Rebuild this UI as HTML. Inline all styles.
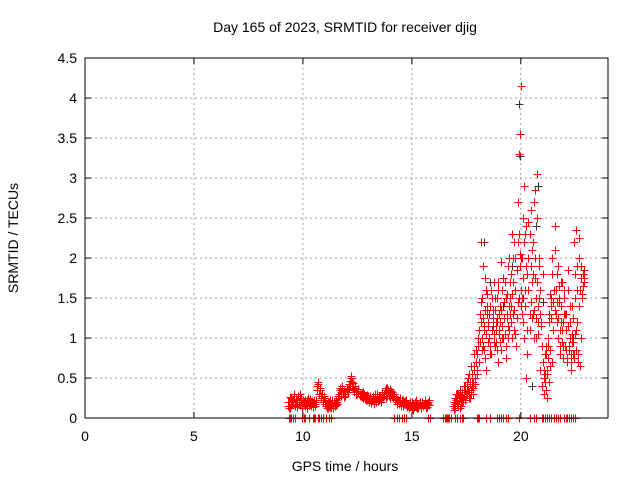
<!DOCTYPE html>
<html><head><meta charset="utf-8"><style>
body{margin:0;background:#fff;width:640px;height:480px;overflow:hidden}
svg text{font-family:"Liberation Sans",sans-serif;font-size:14px;fill:#000}
</style></head><body>
<svg id="chart" width="640" height="480" viewBox="0 0 640 480" xmlns="http://www.w3.org/2000/svg">
<rect x="0" y="0" width="640" height="480" fill="#fff"/>
<g id="grid"></g>
<g id="marks"></g>
<rect x="85" y="58" width="523" height="360" fill="none" stroke="#000" stroke-width="1"/>
<g id="ticks"></g>
<text x="345" y="32" text-anchor="middle">Day 165 of 2023, SRMTID for receiver djig</text>
<text x="345" y="471" text-anchor="middle">GPS time / hours</text>
<text x="18" y="238" text-anchor="middle" transform="rotate(-90 18 238)">SRMTID / TECUs</text>
</svg>
<script>
const xTicks=[0,5,10,15,20];
const yTicks=[0,0.5,1,1.5,2,2.5,3,3.5,4,4.5];
const yTickLabels=["0","0.5","1","1.5","2","2.5","3","3.5","4","4.5"];
const lowStart=9.3, lowEnd=15.8;
const lowValues=[.15,.2,.12,.25,.18,.22,.28,.15,.2,.24,.17,.3,.22,.13,.19,
.2,.15,.18,.22,.25,.16,.19,.21,.14,.2,.18,.23,
.4,.45,.3,.35,.25,.2,.28,.22,
.15,.18,.12,.2,.14,.17,.22,.13,.19,.16,.2,.25,
.3,.35,.28,.4,.32,.26,.3,.35,
.33,.38,.42,.5,.45,.38,.35,.4,.3,.32,.36,.28,
.3,.26,.33,.29,.24,.28,.22,.27,
.2,.25,.22,.28,.18,.26,.23,.3,.21,.27,.24,.2,
.3,.28,.35,.25,.38,.32,.27,.36,.29,.33,.25,.3,
.26,.2,.22,.18,.25,.15,.2,.23,.17,.21,.19,.15,
.12,.18,.15,.2,.1,.14,.17,.22,.13,.16,.19,.12,.2,.15,.18,.22,.17,.14,.2,.16];
const lowValuesB=[.2,.13,.26,.16,.21,.3,.18,.24,.14,.27,.2,.16,.25,.18,.22,
.17,.22,.13,.2,.16,.24,.15,.2,.18,.22,.15,.2,
.35,.42,.38,.28,.3,.22,.25,.18,
.18,.13,.2,.15,.22,.12,.18,.2,.15,.22,.18,.28,
.28,.38,.32,.36,.3,.34,.27,.38,
.36,.42,.46,.52,.4,.44,.32,.37,.34,.3,.33,.3,
.27,.31,.25,.3,.26,.23,.29,.24,
.23,.28,.19,.25,.22,.3,.2,.26,.24,.22,.28,.25,
.33,.26,.3,.37,.28,.35,.31,.25,.34,.28,.3,.27,
.22,.24,.17,.21,.2,.18,.23,.15,.2,.17,.22,.14,
.16,.13,.2,.11,.17,.15,.2,.14,.18,.12,.16,.2,.14,.18,.16,.2,.13,.19,.17,.22];
const hiStart=16.9, hiEnd=22.9;
const hiValuesA=[.15,.2,.25,.18,.3,.22,.12,.28,.2,.25,.3,
.35,.28,.4,.25,.45,.3,.5,.38,.6,.42,.7,
.55,.9,.7,1.2,.85,1.9,1.1,.75,1.6,1.3,.95,
1.0,1.4,.8,1.25,1.7,.9,1.1,1.5,.7,1.3,
1.2,.85,1.6,1.0,1.45,.75,1.3,1.9,1.1,1.5,
1.8,1.0,1.3,2.2,1.6,.9,2.7,1.5,3.55,4.15,
2.0,1.2,2.9,1.6,2.4,.8,2.0,1.3,2.6,1.7,
2.2,1.0,2.85,1.5,3.05,1.2,2.0,1.6,.9,1.8,
.5,.8,.35,.6,1.0,.45,.85,1.4,.7,1.6,
2.1,1.3,1.8,1.0,1.5,.8,1.2,1.7,.9,1.3,
1.1,.75,1.6,.85,1.2,.7,1.05,.95,.8,1.8,
2.35,1.2,2.0,.65,1.75,1.5,1.8,1.7];
const hiValuesB=[.1,.18,.22,.3,.15,.25,.35,.2,.28,.4,.22,
.3,.45,.35,.55,.25,.65,.4,.3,.8,.5,.6,
1.0,.7,1.3,2.2,1.5,.9,1.15,1.75,.6,1.4,1.2,
.8,1.6,1.1,1.35,.95,1.5,1.2,.85,1.7,1.05,
1.4,1.95,1.0,1.25,1.7,.9,1.55,1.15,2.0,1.3,
1.4,2.3,1.7,1.1,2.0,1.25,2.2,3.3,1.9,1.4,
1.5,2.5,1.0,2.3,.5,1.8,2.45,1.1,1.9,2.1,
1.3,2.7,1.75,1.0,2.5,1.4,1.9,.6,1.15,.4,
.3,.55,.9,.25,.75,1.2,.65,1.5,2.0,1.1,
1.6,2.4,1.2,1.9,1.45,.9,1.7,1.1,.75,1.5,
.9,1.3,.7,1.85,1.0,.6,1.4,.8,2.2,1.05,
.85,1.9,.7,2.25,1.6,1.0,1.8,1.75];
const hiValuesC=[.2,.12,.3,.22,.18,.28,.25,.15,.33,.2,.27,
.4,.3,.5,.32,.42,.35,.55,.45,.65,.5,.85,
.8,1.1,.95,1.45,1.0,1.25,.85,1.35,1.05,1.55,1.15,
1.3,.9,1.5,1.15,1.05,1.35,.95,1.25,1.6,1.1,
.95,1.35,1.15,1.75,1.05,1.5,1.25,1.0,1.4,1.7,
1.2,1.55,2.0,1.35,1.05,1.85,1.45,2.3,2.05,1.6,
1.3,1.75,2.2,1.4,1.9,1.1,1.6,2.3,1.45,1.25,
1.8,1.35,2.0,1.25,1.7,1.05,1.5,1.3,1.2,.7,
.6,.45,.8,.55,.9,1.3,1.55,1.25,1.8,1.45,
1.35,1.6,1.45,1.25,1.65,1.1,1.4,.95,1.2,1.6,
1.3,.85,1.15,.9,1.4,.8,.95,1.25,.75,1.5,
1.1,1.6,.8,1.4,1.9,1.55,1.65,1.85];
const blackTimes=[18.3,18.6,19.2,19.6,19.9,19.95,20.0,20.1,20.3,20.5,20.8,21.0,21.6,22.0,22.4,17.8,18.9,20.7];
const blackValues=[2.2,1.7,1.4,1.9,3.92,3.28,2.0,1.5,1.1,.4,2.9,1.45,1.6,1.3,1.0,.45,1.2,2.4];
const zeroTimes=[9.35,9.4,9.45,9.55,9.65,9.95,10.05,10.1,10.3,10.45,10.5,10.55,10.7,10.75,10.85,10.9,11.05,11.2,11.3,14.2,14.3,14.4,14.55,14.65,14.75,15.75,15.85,16.45,16.5,16.55,16.6,16.65,16.7,16.8,17.0,17.05,17.2,17.3,17.35,18.0,18.05,18.1,18.4,18.6,18.9,19.0,19.1,19.2,19.3,19.4,19.9,20.4,20.6,20.7,20.95,21.0,21.1,21.2,21.3,21.4,21.5,21.6,21.7,21.8,22.0,22.05,22.1,22.2,22.3,22.4,22.5];

const NS="http://www.w3.org/2000/svg";
const X=h=>85+h*(523/24);
const Y=v=>418-v*80;
const grid=document.getElementById('grid'),ticks=document.getElementById('ticks'),marks=document.getElementById('marks');
function ln(p,x1,y1,x2,y2,st,dash){const l=document.createElementNS(NS,'line');l.setAttribute('x1',x1);l.setAttribute('y1',y1);l.setAttribute('x2',x2);l.setAttribute('y2',y2);l.setAttribute('stroke',st);if(dash)l.setAttribute('stroke-dasharray',dash);p.appendChild(l);return l;}
function tx(p,x,y,s,a){const t=document.createElementNS(NS,'text');t.setAttribute('x',x);t.setAttribute('y',y);t.setAttribute('text-anchor',a);t.textContent=s;p.appendChild(t);return t;}
xTicks.forEach(v=>{const x=X(v);
 if(v>0){const g=ln(grid,x,58,x,418,'#a0a0a0','2,3');
 
 }
 ln(ticks,x,418,x,412,'#000');ln(ticks,x,58,x,64,'#000');
 const t=tx(ticks,x,441,String(v),'middle');
 
 });
yTicks.forEach((v,i)=>{const y=Y(v);
 if(v>0&&v<4.5){const g=ln(grid,85,y,608,y,'#a0a0a0','2,3');
 
 }
 ln(ticks,85,y,91,y,'#000');ln(ticks,608,y,602,y,'#000');
 const t=tx(ticks,77,y+5,yTickLabels[i],'end');
 
 });
function plus(h,v,col,name){const x=Math.round(X(h))+0.5,y=Math.round(Y(v))+0.5;
 const g=document.createElementNS(NS,'path');
 g.setAttribute('d',`M${x-4},${y}H${x+4}M${x},${y-4}V${y+4}`);
 g.setAttribute('stroke',col);g.setAttribute('fill','none');
 
 
 marks.appendChild(g);}
function spread(vals,a,b,col,name){vals.forEach((v,i)=>plus(a+(b-a)*i/(vals.length-1),v,col,name));}
blackTimes.forEach((t,i)=>plus(t,blackValues[i],'#333','black-point'));
spread(lowValues,lowStart,lowEnd,'#f00','red-point');
spread(lowValuesB,lowStart+0.02,lowEnd-0.02,'#f00','red-point');
spread(hiValuesA,hiStart,hiEnd,'#f00','red-point');
spread(hiValuesB,hiStart+0.025,hiEnd-0.02,'#f00','red-point');
spread(hiValuesC,hiStart+0.012,hiEnd-0.01,'#f00','red-point');
zeroTimes.forEach(t=>plus(t,0,'#f00','zero-point'));
</script>
</body></html>
